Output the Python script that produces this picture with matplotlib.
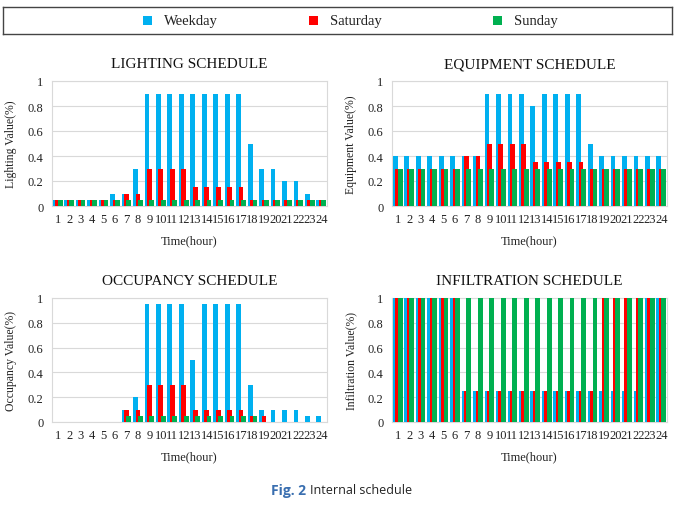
import matplotlib
matplotlib.use("Agg")
import matplotlib.pyplot as plt
import numpy as np
from matplotlib.patches import Rectangle

hours = list(range(1, 25))
series_names = ["Weekday", "Saturday", "Sunday"]

light_weekday = [0.05, 0.05, 0.05, 0.05, 0.05, 0.1, 0.1, 0.3, 0.9, 0.9, 0.9, 0.9, 0.9, 0.9, 0.9, 0.9, 0.9, 0.5, 0.3, 0.3, 0.2, 0.2, 0.1, 0.05]
light_saturday = [0.05, 0.05, 0.05, 0.05, 0.05, 0.05, 0.1, 0.1, 0.3, 0.3, 0.3, 0.3, 0.15, 0.15, 0.15, 0.15, 0.15, 0.05, 0.05, 0.05, 0.05, 0.05, 0.05, 0.05]
light_sunday = [0.05] * 24

equip_weekday = [0.4, 0.4, 0.4, 0.4, 0.4, 0.4, 0.4, 0.4, 0.9, 0.9, 0.9, 0.9, 0.8, 0.9, 0.9, 0.9, 0.9, 0.5, 0.4, 0.4, 0.4, 0.4, 0.4, 0.4]
equip_saturday = [0.3, 0.3, 0.3, 0.3, 0.3, 0.3, 0.4, 0.4, 0.5, 0.5, 0.5, 0.5, 0.35, 0.35, 0.35, 0.35, 0.35, 0.3, 0.3, 0.3, 0.3, 0.3, 0.3, 0.3]
equip_sunday = [0.3] * 24

occ_weekday = [0, 0, 0, 0, 0, 0, 0.1, 0.2, 0.95, 0.95, 0.95, 0.95, 0.5, 0.95, 0.95, 0.95, 0.95, 0.3, 0.1, 0.1, 0.1, 0.1, 0.05, 0.05]
occ_saturday = [0, 0, 0, 0, 0, 0, 0.1, 0.1, 0.3, 0.3, 0.3, 0.3, 0.1, 0.1, 0.1, 0.1, 0.1, 0.05, 0.05, 0, 0, 0, 0, 0]
occ_sunday = [0, 0, 0, 0, 0, 0, 0.05, 0.05, 0.05, 0.05, 0.05, 0.05, 0.05, 0.05, 0.05, 0.05, 0.05, 0.05, 0, 0, 0, 0, 0, 0]

inf_weekday = [1, 1, 1, 1, 1, 1, 0.25, 0.25, 0.25, 0.25, 0.25, 0.25, 0.25, 0.25, 0.25, 0.25, 0.25, 0.25, 0.25, 0.25, 0.25, 0.25, 1, 1]
inf_saturday = [1, 1, 1, 1, 1, 1, 0.25, 0.25, 0.25, 0.25, 0.25, 0.25, 0.25, 0.25, 0.25, 0.25, 0.25, 0.25, 1, 1, 1, 1, 1, 1]
inf_sunday = [1] * 24

panels = [
    ("LIGHTING SCHEDULE", "Lighting Value(%)", [light_weekday, light_saturday, light_sunday]),
    ("EQUIPMENT SCHEDULE", "Equipment Value(%)", [equip_weekday, equip_saturday, equip_sunday]),
    ("OCCUPANCY SCHEDULE", "Occupancy Value(%)", [occ_weekday, occ_saturday, occ_sunday]),
    ("INFILTRATION SCHEDULE", "Infiltration Value(%)", [inf_weekday, inf_saturday, inf_sunday]),
]
colors = ["#00B0F0", "#FF0000", "#00B050"]

plt.rcParams['font.family'] = ['Liberation Serif', 'DejaVu Serif']

W, H = 676, 506
fig = plt.figure(figsize=(W / 100, H / 100), dpi=100)

# plot areas in pixels: (left, top, right, bottom)
boxes = [(52, 82, 327, 207), (392, 82, 667, 207), (52, 299, 327, 423), (392, 299, 667, 423)]

x = np.arange(len(hours))
bw = 0.42
offs = [-0.21, 0.0, 0.21]
for (title, ylabel, data), (l, t, r, b) in zip(panels, boxes):
    ax = fig.add_axes([l / W, 1 - b / H, (r - l) / W, (b - t) / H])
    for vals, c, o in zip(data, colors, offs):
        ax.bar(x + o, vals, width=bw, color=c, zorder=3, linewidth=0)
    ax.set_xlim(-0.5, len(hours) - 0.5)
    ax.set_ylim(0, 1)
    ax.set_yticks([0, 0.2, 0.4, 0.6, 0.8, 1])
    ax.set_yticklabels(["0", "0.2", "0.4", "0.6", "0.8", "1"])
    ax.set_xticks(x)
    ax.set_xticklabels([str(h) for h in hours])
    ax.tick_params(axis='both', length=0, labelsize=9, colors='#222222', pad=6)
    ax.tick_params(axis='x', pad=5)
    ax.yaxis.grid(True, color='#d9d9d9', linewidth=0.8, zorder=0)
    for s in ax.spines.values():
        s.set_color('#d9d9d9')
        s.set_linewidth(0.8)
    ax.set_title(title, fontsize=11, pad=10, color='#111111')
    ax.set_xlabel("Time(hour)", fontsize=9, labelpad=7, color='#222222')
    ax.set_ylabel(ylabel, fontsize=8.5, labelpad=8, color='#222222')

# legend box
lax = fig.add_axes([3 / W, 1 - 35 / H, 669 / W, 27 / H])
lax.set_xlim(3, 672); lax.set_ylim(35, 8)
lax.set_xticks([]); lax.set_yticks([])
for s in lax.spines.values():
    s.set_color('#444444'); s.set_linewidth(1.0)
leg_x = [143, 309, 493]
for name, c, lx in zip(series_names, colors, leg_x):
    lax.add_patch(Rectangle((lx, 17), 9, 9, facecolor=c, edgecolor='none'))
    lax.text(lx + 21, 21.5, name, fontsize=10.5, va='center', ha='left', color='#222222')

fig.text(306 / W, 1 - 491 / H, "Fig. 2", fontsize=10, fontweight='bold', color='#3a6fb0',
         ha='right', va='center', family=['Open Sans', 'DejaVu Sans'])
fig.text(310 / W, 1 - 491 / H, "Internal schedule", fontsize=9, color='#222222',
         ha='left', va='center', family=['Open Sans', 'DejaVu Sans'])

fig.savefig("out.png", dpi=100)
